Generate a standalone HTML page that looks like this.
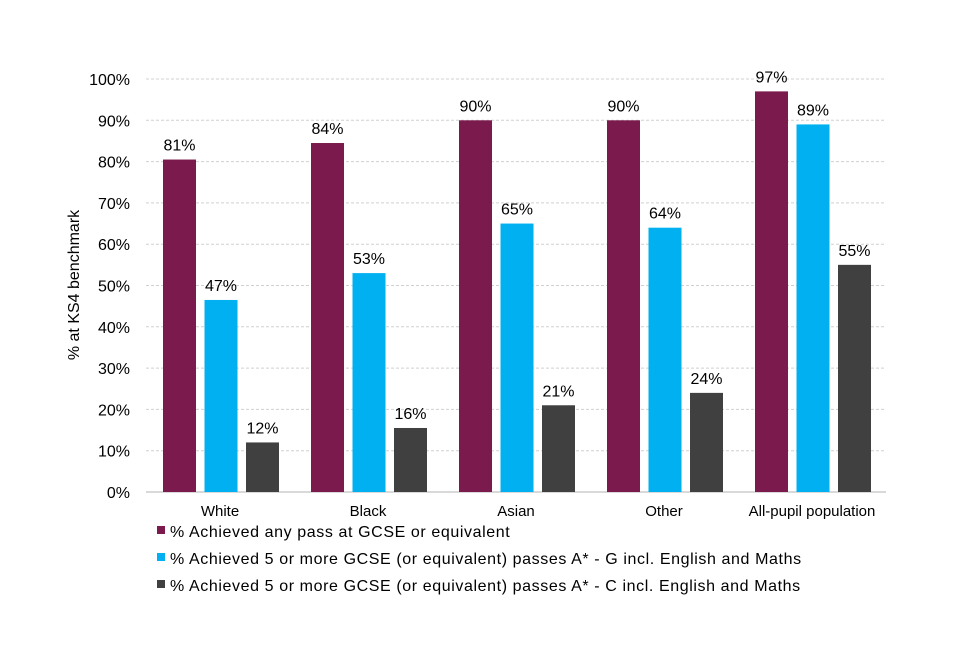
<!DOCTYPE html>
<html><head><meta charset="utf-8"><style>
body{margin:0;background:#fff;}
svg text{font-family:"Liberation Sans",Arial,sans-serif;fill:#000;}
</style></head><body>
<svg id="chart" width="960" height="640"></svg>
<script>
const categories=["White","Black","Asian","Other","All-pupil population"];
const seriesAny=[80.5,84.5,90,90,97];
const seriesAG=[46.5,53,65,64,89];
const seriesAC=[12,15.5,21,24,55];
const labelsAny=["81%","84%","90%","90%","97%"];
const labelsAG=["47%","53%","65%","64%","89%"];
const labelsAC=["12%","16%","21%","24%","55%"];
const yTicks=[0,10,20,30,40,50,60,70,80,90,100];
const seriesNames=["% Achieved any pass at GCSE or equivalent","% Achieved 5 or more GCSE (or equivalent) passes A* - G incl. English and Maths","% Achieved 5 or more GCSE (or equivalent) passes A* - C incl. English and Maths"];
const colors=["#7b1a4c","#00b0f0","#404040"];
const svg=document.getElementById('chart');
const NS='http://www.w3.org/2000/svg';
const x0=146,groupW=148,y0=492,yTop=79;
const y=v=>y0-(v/100)*(y0-yTop);
function mk(t,a){const e=document.createElementNS(NS,t);for(const k in a)e.setAttribute(k,a[k]);svg.appendChild(e);return e;}
yTicks.forEach(t=>{
  if(t>0){const g=mk('line',{x1:x0,x2:x0+groupW*categories.length,y1:y(t),y2:y(t),stroke:'#d0d0d0','stroke-dasharray':'3,2'});
  
  }
  const l=mk('text',{x:130,y:y(t)+6,'text-anchor':'end','font-size':16});l.textContent=t+'%';
  
  
});
const ax=mk('line',{x1:x0,x2:x0+groupW*categories.length,y1:y0,y2:y0,stroke:'#d9d9d9','stroke-width':2});


const yt=mk('text',{x:0,y:0,transform:'translate(79,285) rotate(-90)','text-anchor':'middle','font-size':16});
yt.textContent='% at KS4 benchmark';


const series=[seriesAny,seriesAG,seriesAC],labs=[labelsAny,labelsAG,labelsAC];
categories.forEach((c,i)=>{
  series.forEach((s,j)=>{
    const bx=x0+groupW*i+17+j*41.5;
    const r=mk('rect',{x:bx,y:y(s[i]),width:33,height:y0-y(s[i]),fill:colors[j]});
    
    
    const t=mk('text',{x:bx+16.5,y:y(s[i])-9,'text-anchor':'middle','font-size':16});t.textContent=labs[j][i];
    
    
  });
  const cl=mk('text',{x:x0+groupW*i+74,y:516,'text-anchor':'middle','font-size':15});cl.textContent=c;
  
  
});
seriesNames.forEach((n,j)=>{
  const ly=531+j*27;
  const sq=mk('rect',{x:157,y:ly-5,width:8,height:8,fill:colors[j]});
  
  
  const t=mk('text',{x:170,y:ly+6,'font-size':16,'letter-spacing':0.6});t.textContent=n;
  
  
});
</script>
</body></html>
